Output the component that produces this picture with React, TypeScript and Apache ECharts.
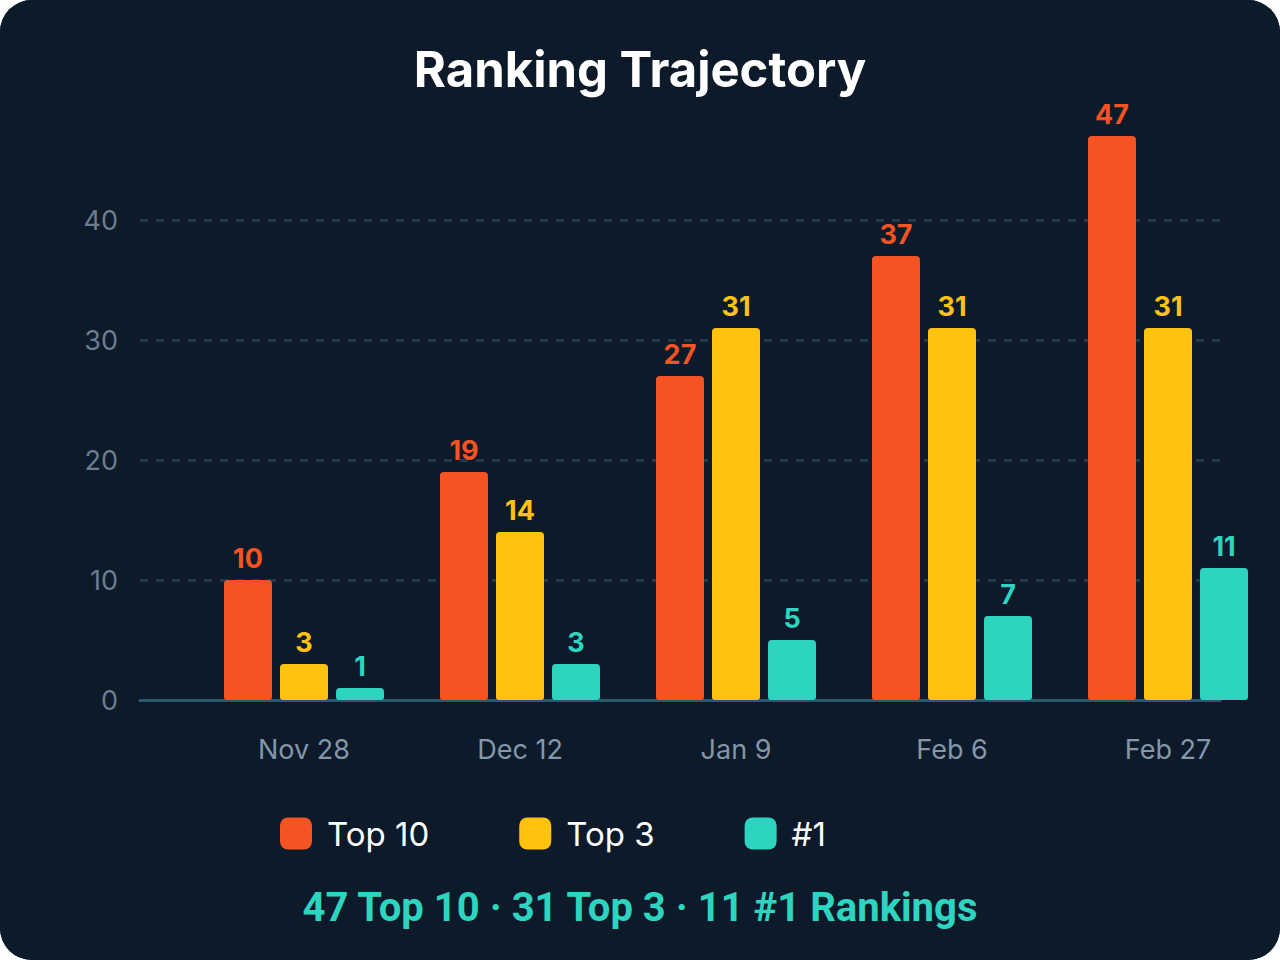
import React, { useEffect, useRef } from "react";
import * as echarts from "echarts";

const categories = ["Nov 28", "Dec 12", "Jan 9", "Feb 6", "Feb 27"];
const top10 = [10, 19, 27, 37, 47];
const top3 = [3, 14, 31, 31, 31];
const first = [1, 3, 5, 7, 11];
const seriesNames = ["Top 10", "Top 3", "#1"];
const colors = ["#F55322", "#FFC20E", "#2DD4BF"];
const titleText = "Ranking Trajectory";
const footerText = "47 Top 10 · 31 Top 3 · 11 #1 Rankings";

const BG = "#0D1A2A";

export default function App() {
  const ref = useRef<HTMLDivElement>(null);
  useEffect(() => {
    document.body.style.margin = "0";
    const chart = echarts.init(ref.current!, null, { renderer: "svg" });
    const values = [top10, top3, first];
    const font = "Inter, 'Noto Sans', sans-serif";
    chart.setOption({
      animation: false,
      backgroundColor: BG,
      textStyle: { fontFamily: font },
      title: [
        {
          text: titleText,
          left: "center",
          top: 40,
          textStyle: { color: "#FFFFFF", fontSize: 49, fontWeight: 700, fontFamily: font },
        },
        {
          text: footerText,
          left: "center",
          top: 882,
          textStyle: { color: "#2DD4BF", fontSize: 40, fontWeight: 700, fontFamily: "Roboto, Inter, sans-serif" },
        },
      ],
      legend: {
        left: 280,
        top: 817,
        padding: 0,
        itemWidth: 32,
        itemHeight: 32,
        itemGap: 90,
        icon: "roundRect",
        itemStyle: { borderRadius: 4 },
        textStyle: { color: "#FFFFFF", fontSize: 33, fontFamily: font, padding: [0, 0, 0, 10] },
        data: seriesNames,
      },
      grid: [
        { left: 140, width: 1080, top: 220, height: 480 },
        { left: 196, width: 1080, top: 220, height: 480 },
      ],
      xAxis: [
        {
          gridIndex: 0,
          type: "category",
          data: categories,
          axisLine: { show: true, lineStyle: { color: "#2A5870", width: 3 } },
          axisTick: { show: false },
          axisLabel: { show: false },
          splitLine: { show: false },
        },
        {
          gridIndex: 1,
          type: "category",
          data: categories,
          axisLine: { show: false },
          axisTick: { show: false },
          axisLabel: { color: "#8496A9", fontSize: 27, margin: 36, fontFamily: font },
        },
      ],
      yAxis: [
        {
          gridIndex: 0,
          type: "value",
          min: 0,
          max: 40,
          interval: 10,
          axisLine: { show: false },
          axisTick: { show: false },
          axisLabel: { color: "#6C7D8F", fontSize: 27, margin: 22, fontFamily: font },
          splitLine: { lineStyle: { color: "#1F3A4B", width: 3, type: [8, 8] } },
        },
        {
          gridIndex: 1,
          type: "value",
          min: 0,
          max: 40,
          interval: 10,
          show: false,
          splitLine: { show: false },
        },
      ],
      series: seriesNames.map((name, i) => ({
        name,
        type: "bar",
        xAxisIndex: 1,
        yAxisIndex: 1,
        data: values[i],
        clip: false,
        barWidth: 48,
        barGap: "16.7%",
        itemStyle: { color: colors[i], borderRadius: [4, 4, 3, 3] },
        label: {
          show: true,
          position: "top",
          distance: 8,
          color: colors[i],
          fontSize: 27,
          fontWeight: 700,
          fontFamily: font,
        },
      })),
    });
    return () => chart.dispose();
  }, []);
  return (
    <div
      style={{
        width: 1280,
        height: 960,
        borderRadius: 32,
        overflow: "hidden",
        background: BG,
      }}
    >
      <div ref={ref} style={{ width: 1280, height: 960 }} />
    </div>
  );
}
